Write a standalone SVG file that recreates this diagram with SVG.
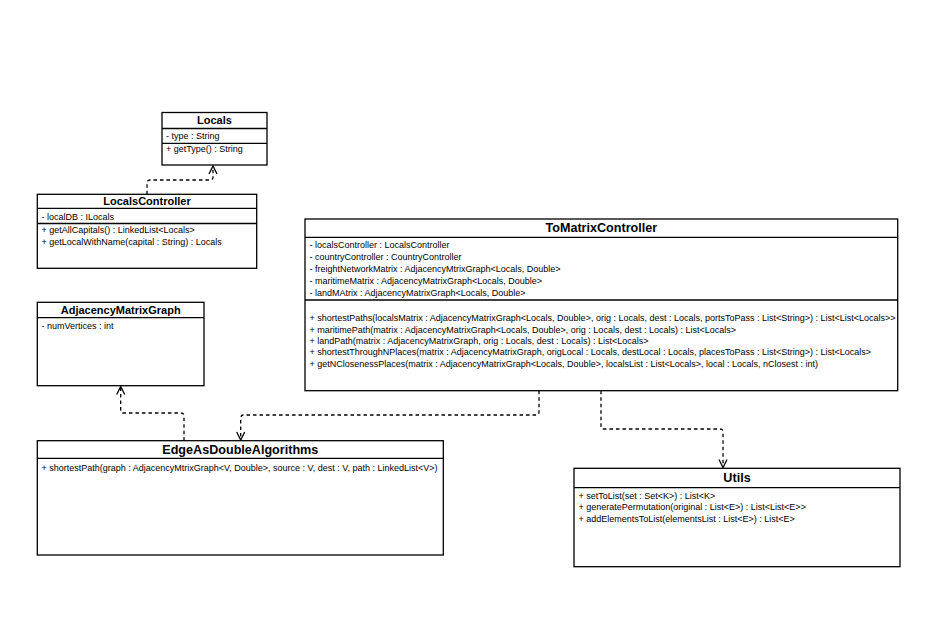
<svg xmlns="http://www.w3.org/2000/svg" width="939" height="625" viewBox="0 0 939 625">
<defs>
<style>
.box{fill:#ffffff;stroke:#000000;stroke-width:1.3}
.ln{stroke:#000000;stroke-width:1.3;fill:none}
.t{font-family:"Liberation Sans",Arial,sans-serif;font-size:9px;fill:#000000}
.h{font-family:"Liberation Sans",Arial,sans-serif;font-size:11px;font-weight:bold;fill:#000000;text-anchor:middle}
.H{font-family:"Liberation Sans",Arial,sans-serif;font-size:12.6px;font-weight:bold;fill:#000000;text-anchor:middle}
.dep{fill:none;stroke:#000000;stroke-width:1.3;stroke-dasharray:3.5,3;stroke-linejoin:round}
</style>
<marker id="open" markerWidth="12" markerHeight="12" refX="9" refY="5" orient="auto" markerUnits="userSpaceOnUse">
<path d="M1,1 L9,5 L1,9" fill="none" stroke="#000000" stroke-width="1.3"/>
</marker>
</defs>
<rect width="939" height="625" fill="#ffffff"/>

<g id="connectors">
<path class="dep" d="M147,194.3 V183 Q147,180 150,180 H210 Q213,180 213,177 V166" marker-end="url(#open)"/>
<path class="dep" d="M184,440.7 V416 Q184,413 181,413 H123.7 Q120.7,413 120.7,410 V386.5" marker-end="url(#open)"/>
<path class="dep" d="M539,390.7 V412 Q539,415 536,415 H243.7 Q240.7,415 240.7,418 V440" marker-end="url(#open)"/>
<path class="dep" d="M601,390.7 V426 Q601,429 604,429 H720 Q723,429 723,432 V467.5" marker-end="url(#open)"/>
</g>

<g id="Locals">
<rect class="box" x="162" y="112.5" width="105" height="52.5"/>
<line class="ln" x1="162" y1="128.5" x2="267" y2="128.5"/>
<line class="ln" x1="162" y1="143.3" x2="267" y2="143.3"/>
<text class="h" x="214.5" y="124">Locals</text>
<text class="t" x="166" y="139">- type : String</text>
<text class="t" x="166" y="152">+ getType() : String</text>
</g>

<g id="LocalsController">
<rect class="box" x="37.3" y="194.3" width="219.4" height="74"/>
<line class="ln" x1="37.3" y1="208.3" x2="256.7" y2="208.3"/>
<line class="ln" x1="37.3" y1="223.5" x2="256.7" y2="223.5"/>
<text class="h" x="147" y="205.3">LocalsController</text>
<text class="t" x="41.5" y="219.5">- localDB : ILocals</text>
<text class="t" x="41.5" y="233">+ getAllCapitals() : LinkedList&lt;Locals&gt;</text>
<text class="t" x="41.5" y="245">+ getLocalWithName(capital : String) : Locals</text>
</g>

<g id="ToMatrixController">
<rect class="box" x="305" y="219" width="592.7" height="171.7"/>
<line class="ln" x1="305" y1="237.3" x2="897.7" y2="237.3"/>
<line class="ln" x1="305" y1="300" x2="897.7" y2="300"/>
<text class="H" x="601.3" y="231.8">ToMatrixController</text>
<text class="t" x="309.5" y="248">- localsController : LocalsController</text>
<text class="t" x="309.5" y="260">- countryController : CountryController</text>
<text class="t" x="309.5" y="272">- freightNetworkMatrix : AdjacencyMtrixGraph&lt;Locals, Double&gt;</text>
<text class="t" x="309.5" y="284">- maritimeMatrix : AdjacencyMatrixGraph&lt;Locals, Double&gt;</text>
<text class="t" x="309.5" y="296">- landMAtrix : AdjacencyMatrixGraph&lt;Locals, Double&gt;</text>
<text class="t" x="309.5" y="321.3">+ shortestPaths(localsMatrix : AdjacencyMatrixGraph&lt;Locals, Double&gt;, orig : Locals, dest : Locals, portsToPass : List&lt;String&gt;) : List&lt;List&lt;Locals&gt;&gt;</text>
<text class="t" x="309.5" y="332.6">+ maritimePath(matrix : AdjacencyMatrixGraph&lt;Locals, Double&gt;, orig : Locals, dest : Locals) : List&lt;Locals&gt;</text>
<text class="t" x="309.5" y="343.9">+ landPath(matrix : AdjacencyMatrixGraph, orig : Locals, dest : Locals) : List&lt;Locals&gt;</text>
<text class="t" x="309.5" y="355.2">+ shortestThroughNPlaces(matrix : AdjacencyMatrixGraph, origLocal : Locals, destLocal : Locals, placesToPass : List&lt;String&gt;) : List&lt;Locals&gt;</text>
<text class="t" x="309.5" y="366.5">+ getNClosenessPlaces(matrix : AdjacencyMatrixGraph&lt;Locals, Double&gt;, localsList : List&lt;Locals&gt;, local : Locals, nClosest : int)</text>
</g>

<g id="AdjacencyMatrixGraph">
<rect class="box" x="37.3" y="302.3" width="166.7" height="83.4"/>
<line class="ln" x1="37.3" y1="317.7" x2="204" y2="317.7"/>
<text class="h" x="120.7" y="314.3">AdjacencyMatrixGraph</text>
<text class="t" x="41.5" y="328.8">- numVertices : int</text>
</g>

<g id="EdgeAsDoubleAlgorithms">
<rect class="box" x="37.3" y="440.7" width="406" height="114.3"/>
<line class="ln" x1="37.3" y1="458.3" x2="443.3" y2="458.3"/>
<text class="H" x="240.3" y="453.5">EdgeAsDoubleAlgorithms</text>
<text class="t" x="41.5" y="470.5">+ shortestPath(graph : AdjacencyMtrixGraph&lt;V, Double&gt;, source : V, dest : V, path : LinkedList&lt;V&gt;)</text>
</g>

<g id="Utils">
<rect class="box" x="574" y="468.3" width="326" height="98.4"/>
<line class="ln" x1="574" y1="487.7" x2="900" y2="487.7"/>
<text class="H" x="737" y="481.6">Utils</text>
<text class="t" x="578.5" y="498.8">+ setToList(set : Set&lt;K&gt;) : List&lt;K&gt;</text>
<text class="t" x="578.5" y="510.3">+ generatePermutation(original : List&lt;E&gt;) : List&lt;List&lt;E&gt;&gt;</text>
<text class="t" x="578.5" y="521.8">+ addElementsToList(elementsList : List&lt;E&gt;) : List&lt;E&gt;</text>
</g>
</svg>
